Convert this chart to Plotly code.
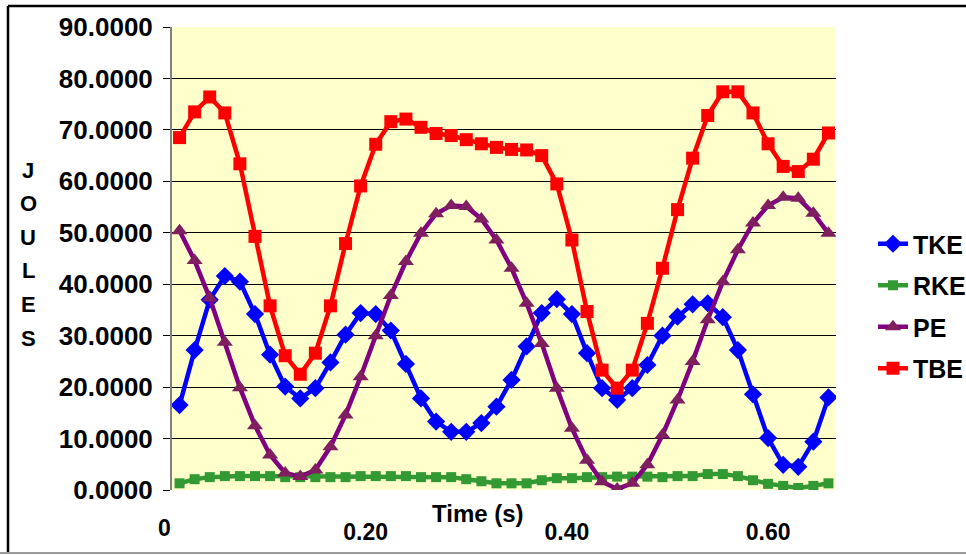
import plotly.graph_objects as go

time_s = [0.015, 0.030, 0.045, 0.060, 0.075, 0.090, 0.105, 0.120, 0.135, 0.150,
          0.165, 0.180, 0.195, 0.210, 0.225, 0.240, 0.255, 0.270, 0.285, 0.300,
          0.315, 0.330, 0.345, 0.360, 0.375, 0.390, 0.405, 0.420, 0.435, 0.450,
          0.465, 0.480, 0.495, 0.510, 0.525, 0.540, 0.555, 0.570, 0.585, 0.600,
          0.615, 0.630, 0.645, 0.660]

tke = [16.5, 27.2, 37.0, 41.6, 40.5, 34.2, 26.3, 20.1, 17.8, 19.8, 24.8, 30.2, 34.4, 34.2, 31.0,
       24.5, 17.8, 13.3, 11.3, 11.3, 13.0, 16.2, 21.4, 27.9, 34.4, 37.1, 34.2, 26.6, 19.8,
       17.5, 19.8, 24.3, 30.0, 33.7, 36.1, 36.3, 33.6, 27.2, 18.6, 10.1, 4.9, 4.5, 9.4, 18.0]
rke = [1.3, 2.1, 2.5, 2.7, 2.7, 2.7, 2.7, 2.5, 2.5, 2.5, 2.5, 2.5, 2.7, 2.7, 2.7,
       2.7, 2.5, 2.5, 2.5, 2.1, 1.7, 1.3, 1.3, 1.3, 1.9, 2.3, 2.3, 2.5, 2.5,
       2.6, 2.6, 2.6, 2.5, 2.7, 2.7, 3.1, 3.1, 2.7, 1.9, 1.2, 0.8, 0.4, 0.8, 1.3]
pe = [50.4, 44.6, 37.3, 28.7, 19.9, 12.5, 6.8, 3.3, 2.6, 3.9, 8.4, 14.6, 22.0, 30.0, 37.8,
      44.4, 49.9, 53.7, 55.3, 55.1, 52.7, 48.6, 43.1, 36.3, 28.5, 19.8, 12.0, 5.8, 1.6,
      0.2, 1.3, 4.9, 10.7, 17.5, 25.0, 33.1, 40.5, 46.7, 51.9, 55.3, 56.9, 56.7, 53.8, 49.9]
tbe = [68.5, 73.5, 76.4, 73.3, 63.4, 49.3, 35.8, 26.1, 22.5, 26.6, 35.8, 47.9, 59.1, 67.2, 71.6,
       72.1, 70.5, 69.3, 68.9, 68.1, 67.3, 66.6, 66.2, 66.1, 65.0, 59.5, 48.6, 34.7, 23.3,
       19.8, 23.3, 32.4, 43.1, 54.5, 64.5, 72.8, 77.4, 77.4, 73.3, 67.3, 62.9, 61.9, 64.3, 69.4]

x_tick_vals = [0, 0.2, 0.4, 0.6]
x_tick_text = ["0", "0.20", "0.40", "0.60"]
y_title_letters = ["J", "O", "U", "L", "E", "S"]
x_title = "Time (s)"

X_RANGE = [0.0075, 0.6675]
FONT = "Liberation Sans, Arial, sans-serif"

series = [
    ("TKE", tke, "#0000FF", "#0000FF", "diamond", 14),
    ("RKE", rke, "#339933", "#339933", "square", 10),
    ("PE", pe, "#800080", "#7F1F5F", "triangle-up", 14),
    ("TBE", tbe, "#FF0000", "#FF0000", "square", 13),
]

fig = go.Figure()
for name, vals, lc, mc, sym, sz in series:
    fig.add_trace(go.Scatter(
        x=time_s, y=vals, name=name, mode="lines+markers", legendgroup=name,
        line=dict(color=lc, width=4.5),
        marker=dict(color=mc, symbol=sym, size=sz, line=dict(width=0)),
    ))

L, R, T, B = 172, 130, 27, 65
W, H = 966, 555
pw, ph = W - L - R, H - T - B

def px(xp):
    return (xp - L) / pw

def py(yp):
    return (H - B - yp) / ph

def xdata_to_paper(v):
    return (v - X_RANGE[0]) / (X_RANGE[1] - X_RANGE[0])

tick_font = dict(family=FONT, size=23, color="black", weight="bold")
in_vals = [v for v in x_tick_vals if X_RANGE[0] <= v <= X_RANGE[1]]
in_text = [t for v, t in zip(x_tick_vals, x_tick_text) if X_RANGE[0] <= v <= X_RANGE[1]]

annotations = [dict(text="<b>%s</b>" % x_title, x=px(478), y=py(513), xref="paper", yref="paper",
                    showarrow=False, font=dict(family=FONT, size=24, color="black"),
                    xanchor="center", yanchor="middle")]
for v, t in zip(x_tick_vals, x_tick_text):
    if not (X_RANGE[0] <= v <= X_RANGE[1]):
        annotations.append(dict(text=t, x=xdata_to_paper(v), y=py(528), xref="paper", yref="paper",
                                showarrow=False, font=tick_font,
                                xanchor="center", yanchor="middle"))
for k, ch in enumerate(y_title_letters):
    annotations.append(dict(text="<b>%s</b>" % ch, x=px(28), y=py(170 + 33.6 * k),
                            xref="paper", yref="paper", showarrow=False,
                            font=dict(family=FONT, size=22, color="black"),
                            xanchor="center", yanchor="middle"))

shapes = [
    dict(type="line", xref="paper", yref="paper", x0=px(8), x1=px(970), y0=py(6), y1=py(6),
         line=dict(color="black", width=2.5)),
    dict(type="line", xref="paper", yref="paper", x0=px(8), x1=px(8), y0=py(6), y1=py(553),
         line=dict(color="black", width=2.5)),
    dict(type="line", xref="paper", yref="paper", x0=px(0), x1=px(970), y0=py(553), y1=py(553),
         line=dict(color="#999999", width=2)),
]

fig.update_layout(
    width=W, height=H,
    margin=dict(l=L, r=R, t=T, b=B, autoexpand=False),
    paper_bgcolor="white",
    plot_bgcolor="#FFFFCC",
    font=dict(family=FONT, size=24, color="black"),
    showlegend=True,
    legend=dict(x=px(873), y=py(221), xanchor="left", yanchor="top",
                font=dict(family=FONT, size=25, color="black", weight="bold"),
                tracegroupgap=6, bgcolor="rgba(0,0,0,0)", traceorder="grouped"),
    xaxis=dict(range=X_RANGE, tickvals=in_vals, ticktext=in_text,
               showgrid=False, zeroline=False, showline=False, ticks="",
               ticklabelstandoff=26, tickfont=tick_font),
    yaxis=dict(range=[0, 90], dtick=10, tickformat=".4f",
               showgrid=True, gridcolor="black", gridwidth=1, zeroline=False,
               showline=True, linecolor="#808080", linewidth=2,
               ticks="outside", ticklen=7, tickcolor="black",
               ticklabelstandoff=5,
               tickfont=dict(family=FONT, size=26, color="black", weight="bold")),
    annotations=annotations,
    shapes=shapes,
)

fig.write_html("out.html", config={"displayModeBar": False},
               post_script="document.body.style.margin='0px';document.body.style.overflow='hidden';")
